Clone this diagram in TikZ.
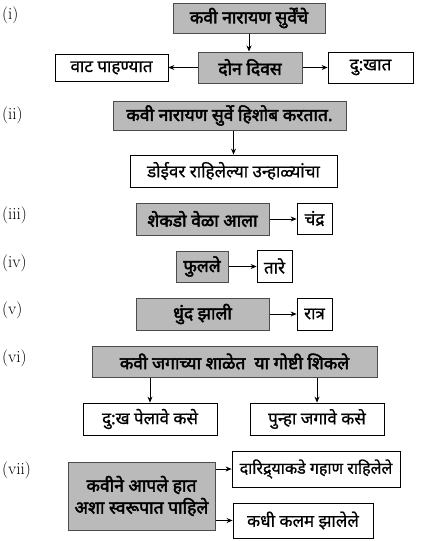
\documentclass[tikz,border=0pt]{standalone}
\usepackage{fontspec}
\newfontfamily\deva[Script=Devanagari,FakeBold=0.8]{Noto Sans}
\newfontfamily\devab[Script=Devanagari,FakeBold=2.5]{Noto Sans}
\usetikzlibrary{arrows.meta}
\begin{document}
\begin{tikzpicture}[x=1pt,y=-1pt,
  gbox/.style={draw=black!70, fill=black!27, line width=1pt, font=\devab\fontsize{17.5}{22}\selectfont, inner sep=0pt, align=center},
  wbox/.style={draw=black, fill=white, line width=0.8pt, font=\deva\fontsize{17}{21}\selectfont, inner sep=0pt},
  arr/.style={-{Stealth[length=6pt,width=5pt]}, line width=0.8pt},
  lbl/.style={anchor=west, font=\fontsize{17}{20}\selectfont, inner sep=0pt}]
\useasboundingbox (0,0) rectangle (421,541);
% labels
\node[lbl] (l1) at (2,15) {(i)};
\node[lbl] (l2) at (2,115) {(ii)};
\node[lbl] (l3) at (2,215) {(iii)};
\node[lbl] (l4) at (2,263) {(iv)};
\node[lbl] (l5) at (2,310) {(v)};
\node[lbl] (l6) at (2,358) {(vi)};
\node[lbl] (l7) at (2,470) {(vii)};
% (i)
\node[gbox, minimum width=152pt, minimum height=30pt] (a1) at (249,18) {कवी नारायण सुर्वेंचे};
\node[gbox, minimum width=104pt, minimum height=31pt] (a2) at (250,67.5) {दोन दिवस};
\node[wbox, minimum width=113pt, minimum height=27pt] (a3) at (111.5,68) {वाट पाहण्यात};
\node[wbox, minimum width=85pt, minimum height=31pt] (a4) at (370.5,67.5) {दु:खात};
\draw[arr] (a1.south) -- (a1.south |- a2.north);
\draw[arr] (a2.west) -- (a2.west -| a3.east);
\draw[arr] (a2.east) -- (a2.east -| a4.west);
% (ii)
\node[gbox, minimum width=233pt, minimum height=29pt] (b1) at (229.5,115.5) {कवी नारायण सुर्वे हिशोब करतात.};
\node[wbox, minimum width=207pt, minimum height=32pt] (b2) at (233.5,171) {डोईवर राहिलेल्या उन्हाळ्यांचा};
\draw[arr] (b2.north |- b1.south) -- (b2.north);
% (iii)
\node[gbox, minimum width=133pt, minimum height=32pt] (c1) at (202.5,219) {शेकडो वेळा आला};
\node[wbox, minimum width=35pt, minimum height=31pt] (c2) at (314.5,218.5) {चंद्र};
\draw[arr] (c1.east) -- (c1.east -| c2.west);
% (iv)
\node[gbox, minimum width=52pt, minimum height=31pt] (d1) at (202,266.5) {फुलले};
\node[wbox, minimum width=35pt, minimum height=32pt] (d2) at (274.5,266) {तारे};
\draw[arr] (d1.east) -- (d1.east -| d2.west);
% (v)
\node[gbox, minimum width=133pt, minimum height=32pt] (e1) at (202.5,314) {धुंद झाली};
\node[wbox, minimum width=35pt, minimum height=32pt] (e2) at (314.5,314) {रात्र};
\draw[arr] (e1.east) -- (e1.east -| e2.west);
% (vi)
\node[gbox, minimum width=285pt, minimum height=31pt] (f1) at (234.5,361.5) {कवी जगाच्या शाळेत\ \ या गोष्टी शिकले};
\node[wbox, minimum width=134pt, minimum height=32pt] (f2) at (150,419) {दु:ख पेलावे कसे};
\node[wbox, minimum width=134pt, minimum height=32pt] (f3) at (317,419) {पुन्हा जगावे कसे};
\draw[arr] (f2.north |- f1.south) -- (f2.north);
\draw[arr] (f3.north |- f1.south) -- (f3.north);
% (vii)
\node[gbox, minimum width=147pt, minimum height=68pt] (g1) at (141.5,496) {कवीने आपले हात\\अशा स्वरूपात पाहिले};
\node[wbox, minimum width=168pt, minimum height=36pt, font=\deva\fontsize{16}{20}\selectfont] (g2) at (316,469) {दारिद्र्याकडे गहाण राहिलेले};
\node[wbox, minimum width=140pt, minimum height=35pt] (g3) at (303,520.5) {कधी कलम झालेले};
\draw[arr] (g1.east |- g2.west) -- (g2.west);
\draw[arr] (g1.east |- g3.west) -- (g3.west);
\end{tikzpicture}
\end{document}
